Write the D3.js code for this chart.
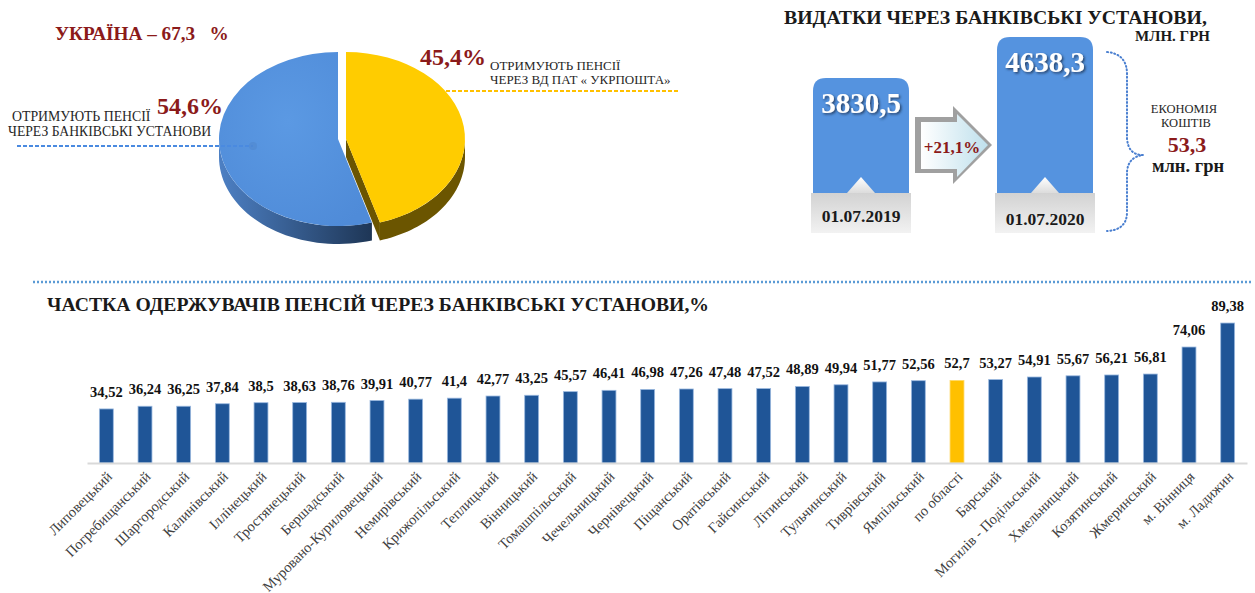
<!DOCTYPE html>
<html>
<head>
<meta charset="utf-8">
<script src="https://cdn.jsdelivr.net/npm/d3@7"></script>
<style>
  body { margin: 0; background: #fff; }
</style>
</head>
<body>
<svg id="chart" width="1255" height="593"></svg>
<script>
// ---- data ----
var districts = ["Липовецький", "Погребищанський", "Шаргородський", "Калинівський", "Іллінецький",
  "Тростянецький", "Бершадський", "Муровано-Куриловецький", "Немирівський", "Крижопільський",
  "Теплицький", "Вінницький", "Томашпільський", "Чечельницький", "Чернівецький", "Піщанський",
  "Оратівський", "Гайсинський", "Літинський", "Тульчинський", "Тиврівський", "Ямпільський",
  "по області", "Барський", "Могилів - Подільський", "Хмельницький", "Козятинський",
  "Жмеринський", "м. Вінниця", "м. Ладижин"];
var shares = [34.52, 36.24, 36.25, 37.84, 38.5, 38.63, 38.76, 39.91, 40.77, 41.4, 42.77, 43.25,
  45.57, 46.41, 46.98, 47.26, 47.48, 47.52, 48.89, 49.94, 51.77, 52.56, 52.7, 53.27, 54.91,
  55.67, 56.21, 56.81, 74.06, 89.38];
var highlight = "по області";

var pieNames = ["ВД ПАТ «УКРПОШТА»", "БАНКІВСЬКІ УСТАНОВИ"];
var pieValues = [45.4, 54.6];

var spendDates = ["01.07.2019", "01.07.2020"];
var spendValues = [3830.5, 4638.3];
var growth = "+21,1%";
var savings = "53,3";
var ukraineShare = "67,3";

var SERIF = "'Liberation Serif', 'Times New Roman', serif";

function fmt(v) { return String(v).replace(".", ","); }

var svg = d3.select("#chart");
var defs = svg.append("defs");

// small helper for plain text labels
function label(x, y, size, txt, opts) {
  opts = opts || {};
  return svg.append("text")
    .attr("x", x).attr("y", y)
    .attr("text-anchor", opts.anchor || "start")
    .attr("fill", opts.color || "#1a1a1a")
    .style("font-family", SERIF)
    .style("font-size", size + "px")
    .style("font-weight", opts.bold ? "bold" : "normal")
    .style("white-space", "pre")
    .text(txt);
}

var shadow = defs.append("filter").attr("id", "shadow").attr("x", "-20%").attr("y", "-20%")
  .attr("width", "140%").attr("height", "140%");
shadow.append("feDropShadow").attr("dx", 1.5).attr("dy", 1.5).attr("stdDeviation", 1)
  .attr("flood-color", "#1b3558").attr("flood-opacity", 0.85);

var sideGrad = defs.append("linearGradient").attr("id", "blueSide");
sideGrad.append("stop").attr("offset", "0%").attr("stop-color", "#4d80c4");
sideGrad.append("stop").attr("offset", "100%").attr("stop-color", "#1e3656");

var topGrad = defs.append("radialGradient").attr("id", "blueTop").attr("cx", "45%").attr("cy", "40%").attr("r", "70%");
topGrad.append("stop").attr("offset", "0%").attr("stop-color", "#5b99e3");
topGrad.append("stop").attr("offset", "100%").attr("stop-color", "#4f8bd8");

var greyGrad = defs.append("linearGradient").attr("id", "greyBox").attr("x1", 0).attr("y1", 0).attr("x2", 0).attr("y2", 1);
greyGrad.append("stop").attr("offset", "0%").attr("stop-color", "#d2d2d2");
greyGrad.append("stop").attr("offset", "100%").attr("stop-color", "#f2f2f2");

var notchGrad = defs.append("linearGradient").attr("id", "notch").attr("x1", 0).attr("y1", 0).attr("x2", 0).attr("y2", 1);
notchGrad.append("stop").attr("offset", "0%").attr("stop-color", "#ffffff");
notchGrad.append("stop").attr("offset", "100%").attr("stop-color", "#dcdcdc");

var arrowGrad = defs.append("linearGradient").attr("id", "arrowFill");
arrowGrad.append("stop").attr("offset", "0%").attr("stop-color", "#ffffff");
arrowGrad.append("stop").attr("offset", "100%").attr("stop-color", "#bfe0ec");

/************* Pie (top left) ****************/
label(55, 40, 19.2, "УКРАЇНА – " + ukraineShare + "   %", { bold: true, color: "#8b1a1a" });

var rx = 119, ry = 87, depth = 18;
var pieCx = 338, pieCy = 139;
var pieColors = ["#ffcc00", "url(#blueTop)"];
var pieSides = ["#6b5500", "url(#blueSide)"];
var explode = [8, 0];

var arcs = d3.pie().sort(null)(pieValues);

function ept(cx, a) { return [cx + rx * Math.sin(a), pieCy - ry * Math.cos(a)]; }

function sidePath(cx, a0, a1) {
  var s = Math.max(a0, Math.PI / 2), e = Math.min(a1, Math.PI * 1.5);
  if (e <= s) return null;
  var n = 40, pts = [];
  for (var i = 0; i <= n; i++) pts.push(ept(cx, s + (e - s) * i / n));
  var back = pts.slice().reverse().map(function (p) { return [p[0], p[1] + depth]; });
  return "M" + pts.concat(back).map(function (p) { return p.join(","); }).join("L") + "Z";
}

var pieG = svg.append("g");
// outer side walls
arcs.forEach(function (d, i) {
  var p = sidePath(pieCx + explode[i], d.startAngle, d.endAngle);
  if (p) pieG.append("path").attr("d", p).attr("fill", pieSides[i]);
});
// radial wall of the exploded slice
var yl = arcs[0];
var wc = pieCx + explode[0];
var we = ept(wc, yl.endAngle);
pieG.append("path")
  .attr("d", "M" + [wc, pieCy] + "L" + we + "L" + [we[0], we[1] + depth] + "L" + [wc, pieCy + depth] + "Z")
  .attr("fill", "#6b5500");

var arcGen = d3.arc().innerRadius(0).outerRadius(rx);
arcs.slice().reverse().forEach(function (d, k) {
  var i = arcs.length - 1 - k;
  pieG.append("path")
    .attr("d", arcGen(d))
    .attr("transform", "translate(" + (pieCx + explode[i]) + "," + pieCy + ") scale(1," + (ry / rx) + ")")
    .attr("fill", pieColors[i]);
});

// pie labels
label(420, 65, 24, fmt(pieValues[0]) + "%", { bold: true, color: "#8b1a1a" });
label(157, 114, 24, fmt(pieValues[1]) + "%", { bold: true, color: "#8b1a1a" });

label(490, 70, 13, "ОТРИМУЮТЬ ПЕНСІЇ", { color: "#262626" });
label(490, 84, 13, "ЧЕРЕЗ ВД ПАТ « УКРПОШТА»", { color: "#262626" });
svg.append("line").attr("x1", 446).attr("x2", 678).attr("y1", 91).attr("y2", 91)
  .attr("stroke", "#ffc000").attr("stroke-width", 2).attr("stroke-dasharray", "4 2");

label(12, 121, 13.8, "ОТРИМУЮТЬ ПЕНСІЇ", { color: "#262626" });
label(8, 136, 13.7, "ЧЕРЕЗ БАНКІВСЬКІ УСТАНОВИ", { color: "#262626" });
svg.append("line").attr("x1", 17).attr("x2", 253).attr("y1", 146).attr("y2", 146)
  .attr("stroke", "#4a8ae0").attr("stroke-width", 2).attr("stroke-dasharray", "4 2");
svg.append("circle").attr("cx", 253).attr("cy", 146).attr("r", 4).attr("fill", "#4f86cc").attr("opacity", 0.5);

/************* Spending (top right) ****************/
label(784, 24, 19.8, "ВИДАТКИ ЧЕРЕЗ БАНКІВСЬКІ УСТАНОВИ,", { bold: true });
label(1210, 41, 15, "МЛН. ГРН", { bold: true, anchor: "end" });

var boxX = d3.scaleOrdinal().domain(spendDates).range([813, 997]);
var boxTop = d3.scaleLinear().domain([spendValues[0], spendValues[1]]).range([78, 37]);
var boxW = 96, boxBottom = 193, r = 13;

spendDates.forEach(function (dt, i) {
  var x0 = boxX(dt), y0 = boxTop(spendValues[i]), x1 = x0 + boxW;
  var g = svg.append("g");
  g.append("path")
    .attr("d", "M" + x0 + "," + boxBottom + "L" + x0 + "," + (y0 + r) +
      "Q" + x0 + "," + y0 + " " + (x0 + r) + "," + y0 + "L" + (x1 - r) + "," + y0 +
      "Q" + x1 + "," + y0 + " " + x1 + "," + (y0 + r) + "L" + x1 + "," + boxBottom + "Z")
    .attr("fill", "#5593df");
  g.append("rect").attr("x", x0 - 2).attr("y", boxBottom).attr("width", boxW + 4).attr("height", 40)
    .attr("fill", "url(#greyBox)");
  var mx = x0 + boxW / 2;
  g.append("path").attr("d", "M" + (mx - 14) + "," + boxBottom + "L" + mx + "," + (boxBottom - 16) + "L" + (mx + 14) + "," + boxBottom + "Z")
    .attr("fill", "url(#notch)");
  label(mx, y0 + 35, 29, fmt(spendValues[i]), { bold: true, color: "#ffffff", anchor: "middle" })
    .attr("filter", "url(#shadow)");
  label(mx, boxBottom + 29 + i * 3, 17.5, dt, { bold: true, anchor: "middle" });
});

// growth arrow
var arrowPts = [[915, 117], [953, 117], [953, 106], [992, 145], [953, 184], [953, 173], [915, 173]];
svg.append("polygon").attr("points", arrowPts.map(function (p) { return p.join(","); }).join(" "))
  .attr("fill", "#a0a0a0");
var innerPts = [[921, 122], [957, 122], [957, 114], [988, 145], [957, 177], [957, 169], [921, 169]];
svg.append("polygon").attr("points", innerPts.map(function (p) { return p.join(","); }).join(" "))
  .attr("fill", "url(#arrowFill)");
label(952, 153, 17, growth, { bold: true, color: "#8b1a1a", anchor: "middle" });

// brace
svg.append("path")
  .attr("d", "M1107,52 Q1127,54 1127,74 L1127,138 Q1128,155 1143,155 Q1128,157 1127,172 L1127,212 Q1127,230 1107,231")
  .attr("fill", "none").attr("stroke", "#4a7fd0").attr("stroke-width", 2)
  .attr("stroke-dasharray", "1 2.6").attr("stroke-linecap", "round");

label(1184, 113, 12.5, "ЕКОНОМІЯ", { anchor: "middle", color: "#262626" });
label(1186, 127, 12.5, "КОШТІВ", { anchor: "middle", color: "#262626" });
label(1187, 152, 22, savings, { bold: true, color: "#8b1a1a", anchor: "middle" });
label(1188, 172, 18.5, "млн. грн", { bold: true, anchor: "middle" });

/************* Bar chart (bottom) ****************/
svg.append("line").attr("x1", 33).attr("x2", 1253).attr("y1", 282).attr("y2", 282)
  .attr("stroke", "#5b9bd5").attr("stroke-width", 2.5).attr("stroke-dasharray", "2 2");

label(47, 311, 19.7, "ЧАСТКА ОДЕРЖУВАЧІВ ПЕНСІЙ ЧЕРЕЗ БАНКІВСЬКІ УСТАНОВИ,%", { bold: true });

var baseY = 463;
var xScale = d3.scaleBand().domain(districts).range([87, 1247]).paddingInner(0.64).paddingOuter(0.32);
var yScale = d3.scaleLinear().domain([0, 100]).range([baseY, baseY - 156.6]);

var bars = svg.append("g");
bars.selectAll("rect").data(shares).enter().append("rect")
  .attr("x", function (d, i) { return xScale(districts[i]); })
  .attr("y", function (d) { return yScale(d); })
  .attr("width", xScale.bandwidth())
  .attr("height", function (d) { return baseY - yScale(d); })
  .attr("fill", function (d, i) { return districts[i] === highlight ? "#ffc000" : "#1f5597"; })
  .attr("stroke", function (d, i) { return districts[i] === highlight ? "#ffd966" : "#9ab8df"; })
  .attr("stroke-width", 0.8);

bars.selectAll("text.val").data(shares).enter().append("text")
  .attr("class", "val")
  .attr("x", function (d, i) { return xScale(districts[i]) + xScale.bandwidth() / 2; })
  .attr("y", function (d) { return yScale(d) - 12; })
  .attr("text-anchor", "middle")
  .attr("fill", "#111")
  .style("font-family", SERIF).style("font-size", "14.5px").style("font-weight", "bold")
  .text(function (d) { return fmt(d); });

var xAxis = svg.append("g")
  .attr("transform", "translate(0," + baseY + ")")
  .call(d3.axisBottom(xScale).tickSize(0).tickSizeOuter(0));
xAxis.select(".domain").attr("stroke", "#d9d9d9").attr("stroke-width", 2);
xAxis.selectAll(".tick text")
  .attr("y", 0).attr("dy", "0.35em")
  .attr("transform", "translate(3,11) rotate(-45)")
  .attr("fill", "#404040")
  .style("text-anchor", "end")
  .style("font-family", SERIF)
  .style("font-size", "14.5px");
</script>
</body>
</html>
